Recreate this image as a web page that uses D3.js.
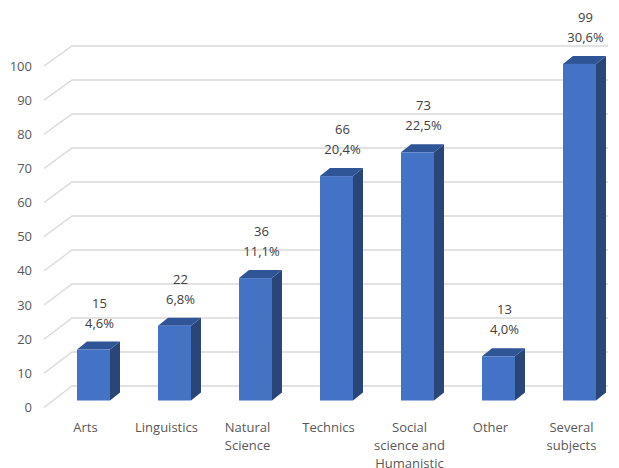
<!DOCTYPE html>
<html>
<head>
    <meta charset="utf-8">
    <title></title>
    <style>
        body { margin: 0; background: #fff; }
        svg { display: block; }
    </style>
</head>
<body>
    <svg width="619" height="468"></svg>
<script src="https://d3js.org/d3.v7.min.js"></script>
<script type="text/javascript">
const categories = [["Arts"], ["Linguistics"], ["Natural", "Science"], ["Technics"],
    ["Social", "science and", "Humanistic"], ["Other"], ["Several", "subjects"]];
const values = [15, 22, 36, 66, 73, 13, 99];
const percents = ["4,6%", "6,8%", "11,1%", "20,4%", "22,5%", "4,0%", "30,6%"];
const yTicks = [0, 10, 20, 30, 40, 50, 60, 70, 80, 90, 100];

const svg = d3.select("svg")
    .style("font-family", "'Open Sans', sans-serif")
    .style("font-size", "13px");

const keys = categories.map(c => c.join(" "));
// bar front face centre
const x = d3.scalePoint().domain(keys).range([93.5, 579.5]);
const yBar = d3.scaleLinear().domain([0, 100]).range([400.5, 60.5]);
const yBack = d3.scaleLinear().domain([0, 100]).range([386, 46]);
const yFront = d3.scaleLinear().domain([0, 100]).range([407.5, 66]);

const barW = 33, dx = 10, dy = -8;
const wallX = 72, frontX = 44, rightX = 608;

// gridlines: diagonal on side wall + horizontal on back wall
const grid = svg.append("g")
    .attr("fill", "none")
    .attr("stroke", "#d9d9d9")
    .attr("stroke-width", 1.3);
grid.selectAll("path")
    .data(yTicks)
    .join("path")
    .attr("d", d => `M${frontX},${yFront(d)}L${wallX},${yBack(d)}L${rightX},${yBack(d)}`);

svg.append("g")
    .attr("fill", "#595959")
    .attr("text-anchor", "end")
    .selectAll("text")
    .data(yTicks)
    .join("text")
    .attr("x", 32)
    .attr("y", d => yFront(d))
    .attr("dy", "0.35em")
    .text(d => d);

const data = keys.map((k, i) => ({ key: k, value: values[i], pct: percents[i], lines: categories[i] }));

const bars = svg.append("g")
    .selectAll("g")
    .data(data)
    .join("g");

bars.append("path") // side
    .attr("fill", "#2a4679")
    .attr("d", d => {
        const x1 = x(d.key) + barW / 2, t = yBar(d.value), b = yBar(0);
        return `M${x1},${t}L${x1 + dx},${t + dy}L${x1 + dx},${b + dy}L${x1},${b}Z`;
    });
bars.append("path") // top
    .attr("fill", "#2f5597")
    .attr("d", d => {
        const x0 = x(d.key) - barW / 2, t = yBar(d.value);
        return `M${x0},${t}L${x0 + dx},${t + dy}L${x0 + barW + dx},${t + dy}L${x0 + barW},${t}Z`;
    });
bars.append("rect") // front
    .attr("fill", "#4472c4")
    .attr("x", d => x(d.key) - barW / 2)
    .attr("y", d => yBar(d.value))
    .attr("width", barW)
    .attr("height", d => yBar(0) - yBar(d.value));

const labels = svg.append("g")
    .attr("fill", "#404040")
    .attr("text-anchor", "middle")
    .selectAll("text")
    .data(data)
    .join("text")
    .attr("x", d => x(d.key) + 6)
    .attr("y", d => yBar(d.value) - 42);
labels.append("tspan").text(d => d.value);
labels.append("tspan")
    .attr("x", d => x(d.key) + 6)
    .attr("dy", 20)
    .text(d => d.pct);

const cats = svg.append("g")
    .attr("fill", "#595959")
    .attr("text-anchor", "middle")
    .selectAll("text")
    .data(data)
    .join("text")
    .attr("y", 432);
cats.selectAll("tspan")
    .data(d => d.lines.map((l, j) => ({ l, j, key: d.key })))
    .join("tspan")
    .attr("x", d => x(d.key) - 8)
    .attr("dy", d => d.j === 0 ? 0 : 18)
    .text(d => d.l);
</script>
</body>
</html>
